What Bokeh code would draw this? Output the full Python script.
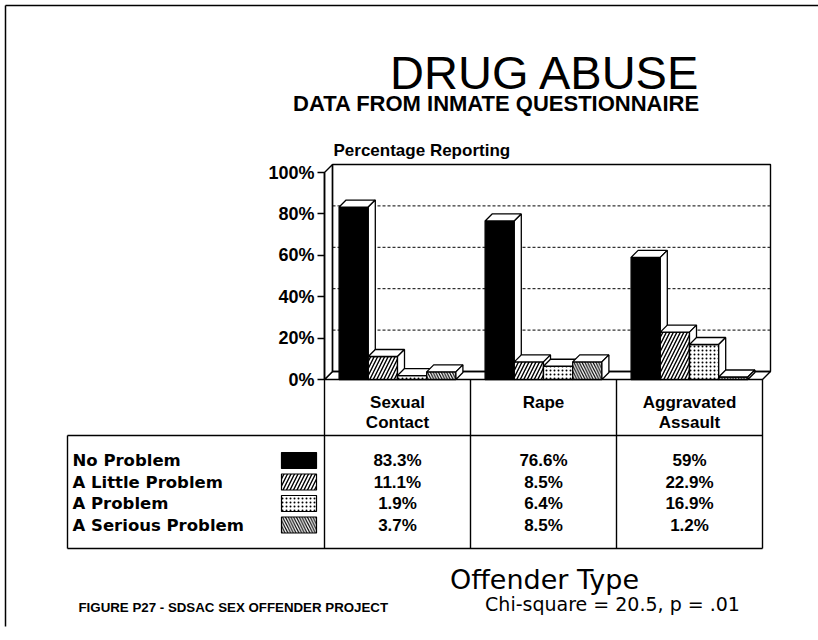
from bokeh.plotting import figure
from bokeh.models import Range1d, LinearAxis, FixedTicker, PrintfTickFormatter
from bokeh.core.properties import value
from bokeh.embed import file_html
from bokeh.resources import INLINE

# ---- data -------------------------------------------------------------
categories = ["Sexual Contact", "Rape", "Aggravated Assault"]
category_labels = ["Sexual\nContact", "Rape", "Aggravated\nAssault"]
series_names = ["No Problem", "A Little Problem", "A Problem", "A Serious Problem"]
no_problem = [83.3, 76.6, 59.0]
little_problem = [11.1, 8.5, 22.9]
a_problem = [1.9, 6.4, 16.9]
serious_problem = [3.7, 8.5, 1.2]
y_ticks = [0, 20, 40, 60, 80, 100]

series_values = [no_problem, little_problem, a_problem, serious_problem]

# ---- page geometry (pixels) -------------------------------------------
W, H = 818, 640
X0, XS = 324, 146      # left edge of first category, pixels per category
Y0, YS = 379, 2.07     # pixel row of 0 %, pixels per percent


def xd(px):
    return (px - X0) / XS


def yd(py):
    return (Y0 - py) / YS


def dx(px):
    return px / XS


def dy(px):
    return px / YS


SANS = value("Liberation Sans")
WIDE = value("DejaVu Sans")

p = figure(width=W, height=H,
           x_range=Range1d(xd(0), xd(W)), y_range=Range1d(yd(H), yd(0)),
           output_backend="svg", toolbar_location=None,
           x_axis_type=None, y_axis_type=None,
           min_border=0, min_border_left=0, min_border_right=0,
           min_border_top=0, min_border_bottom=0)
p.outline_line_color = None
p.background_fill_color = "white"
p.border_fill_color = "white"

n_cat = len(categories)
n_ser = len(series_names)
bar_w = 0.2
pad = (1 - n_ser * bar_w) / 2

# ---- 3-D box: floor, left wall, back wall, grid -----------------------
wdx, wdy = dx(8), dy(8)
p.patch([0, n_cat, n_cat + wdx, wdx], [0, 0, wdy, wdy],
        fill_color="white", line_color="black", line_width=1.4)
p.patch([0, 0, wdx, wdx], [0, 100, 100 + wdy, wdy],
        fill_color="white", line_color="black", line_width=1.4)
p.quad(left=[wdx], right=[n_cat + wdx], bottom=[wdy], top=[100 + wdy],
       fill_color=None, line_color="black", line_width=1.4)
grid_ticks = y_ticks[1:-1]
p.segment(x0=[wdx] * len(grid_ticks), y0=[t + wdy for t in grid_ticks],
          x1=[n_cat + wdx] * len(grid_ticks), y1=[t + wdy for t in grid_ticks],
          line_color="black", line_width=1, line_dash="3 2")

# ---- bars --------------------------------------------------------------
styles = [
    dict(fill_color="black"),
    dict(fill_color="white", hatch_pattern="/", hatch_scale=7, hatch_weight=1.4, hatch_color="black"),
    dict(fill_color="white", hatch_pattern=".", hatch_scale=4, hatch_weight=1.1, hatch_color="black"),
    dict(fill_color="white", hatch_pattern="\\", hatch_scale=5.5, hatch_weight=1.2, hatch_color="black"),
]
bdx, bdy = dx(7), dy(7)
for j, vals in enumerate(series_values):
    lefts = [i + pad + j * bar_w for i in range(n_cat)]
    rights = [l + bar_w for l in lefts]
    p.quad(left=lefts, right=rights, bottom=[0] * n_cat, top=vals,
           line_color="black", line_width=1.3, **styles[j])
    tops_x = [[l, r, r + bdx, l + bdx] for l, r in zip(lefts, rights)]
    tops_y = [[v, v, v + bdy, v + bdy] for v in vals]
    side_x = [[r, r, r + bdx, r + bdx] for r in rights]
    side_y = [[0, v, v + bdy, bdy] for v in vals]
    p.patches(tops_x, tops_y, fill_color="white", line_color="black", line_width=1.3)
    p.patches(side_x, side_y, fill_color="white", line_color="black", line_width=1.3)

# ---- value axis --------------------------------------------------------
yaxis = LinearAxis(fixed_location=0, bounds=(0, 100),
                   ticker=FixedTicker(ticks=y_ticks),
                   formatter=PrintfTickFormatter(format="%d%%"))
yaxis.axis_line_width = 1.6
yaxis.axis_line_color = "black"
yaxis.major_tick_in = 0
yaxis.major_tick_out = 7
yaxis.major_tick_line_width = 1.4
yaxis.minor_tick_in = 0
yaxis.minor_tick_out = 0
yaxis.major_label_standoff = 3
yaxis.major_label_text_font = "Liberation Sans"
yaxis.major_label_text_font_style = "bold"
yaxis.major_label_text_font_size = "18px"
yaxis.major_label_text_color = "black"
p.add_layout(yaxis, "left")

# ---- titles ------------------------------------------------------------
p.text(x=[xd(545)], y=[yd(72)], text=["DRUG ABUSE"], text_font=SANS,
       text_font_size="47px", text_align="center", text_baseline="middle", text_color="black")
p.text(x=[xd(496)], y=[yd(103)], text=["DATA FROM INMATE QUESTIONNAIRE"], text_font=SANS,
       text_font_style="bold", text_font_size="22px", text_align="center",
       text_baseline="middle", text_color="black")
p.text(x=[xd(333)], y=[yd(150)], text=["Percentage Reporting"], text_font=SANS,
       text_font_style="bold", text_font_size="17px", text_align="left",
       text_baseline="middle", text_color="black")

# ---- data table under the chart ----------------------------------------
tbl_left, tbl_top, tbl_bottom = 67, 435, 548
row_first, row_pitch = 460, 21.5
row_y = [yd(row_first + k * row_pitch) for k in range(n_ser)]

# column rules
p.segment(x0=list(range(n_cat + 1)), y0=[0] * (n_cat + 1),
          x1=list(range(n_cat + 1)), y1=[yd(tbl_bottom)] * (n_cat + 1),
          line_color="black", line_width=1.4)
# table box
p.segment(x0=[xd(tbl_left), xd(tbl_left), xd(tbl_left)],
          y0=[yd(tbl_top), yd(tbl_bottom), yd(tbl_top)],
          x1=[n_cat, n_cat, xd(tbl_left)],
          y1=[yd(tbl_top), yd(tbl_bottom), yd(tbl_bottom)],
          line_color="black", line_width=1.4)

# category headings
p.text(x=[i + 0.5 for i in range(n_cat)], y=[yd(392)] * n_cat, text=category_labels,
       text_font=SANS, text_font_style="bold", text_font_size="17px",
       text_align="center", text_baseline="top", text_line_height=1.1, text_color="black")

# legend labels and swatches
p.text(x=[xd(72)] * n_ser, y=row_y, text=series_names, text_font=WIDE,
       text_font_style="bold", text_font_size="16.5px", text_align="left",
       text_baseline="middle", text_color="black")
sw_h = dy(8)
for j in range(n_ser):
    p.quad(left=[xd(281)], right=[xd(316)], bottom=[row_y[j] - sw_h], top=[row_y[j] + sw_h],
           line_color="black", line_width=1.2, **styles[j])

# value cells
for j, vals in enumerate(series_values):
    p.text(x=[i + 0.5 for i in range(n_cat)], y=[row_y[j]] * n_cat,
           text=[f"{v:g}%" for v in vals], text_font=SANS, text_font_style="bold",
           text_font_size="17px", text_align="center", text_baseline="middle",
           text_color="black")

# ---- footer ------------------------------------------------------------
p.text(x=[xd(544)], y=[yd(579)], text=["Offender Type"], text_font=WIDE,
       text_font_size="27px", text_align="center", text_baseline="middle", text_color="black")
p.text(x=[xd(612)], y=[yd(603)], text=["Chi-square = 20.5, p = .01"], text_font=WIDE,
       text_font_size="19px", text_align="center", text_baseline="middle", text_color="black")
p.text(x=[xd(78)], y=[yd(607)], text=["FIGURE P27 - SDSAC SEX OFFENDER PROJECT"], text_font=SANS,
       text_font_style="bold", text_font_size="13.3px", text_align="left",
       text_baseline="middle", text_color="black")

# ---- page border ---------------------------------------------------------
p.segment(x0=[xd(5), xd(5)], y0=[yd(5), yd(5)], x1=[xd(W), xd(5)], y1=[yd(5), yd(626)],
          line_color="black", line_width=1.5)

open("out.html", "w").write(file_html(p, INLINE))
